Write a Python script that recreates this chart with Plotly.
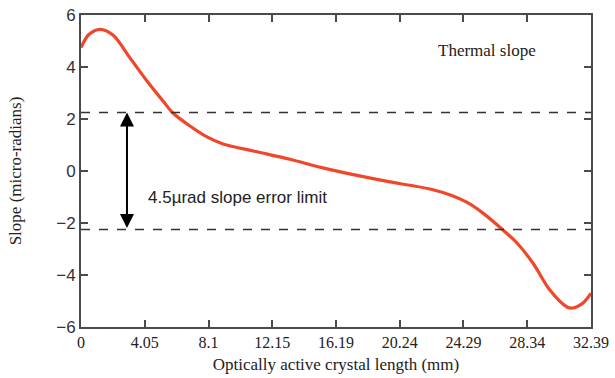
import plotly.graph_objects as go

# Data
length_mm = [0.0, 0.5, 1.2, 2.03, 3.11, 4.19, 5.21, 5.84, 6.92, 8.0, 9.02, 11.18,
             13.27, 15.37, 17.53, 19.62, 20.89, 22.35, 23.5, 24.5, 25.53, 26.8, 27.69,
             28.7, 29.78, 30.86, 31.25, 31.88, 32.39]
slope_urad = [4.75, 5.25, 5.45, 5.23, 4.35, 3.46, 2.69, 2.23, 1.73, 1.31, 1.04, 0.74,
              0.45, 0.12, -0.17, -0.42, -0.55, -0.72, -0.93, -1.2, -1.62, -2.27, -2.77,
              -3.54, -4.58, -5.23, -5.27, -5.08, -4.7]

x_ticks = [0, 4.05, 8.1, 12.15, 16.19, 20.24, 24.29, 28.34, 32.39]
x_tick_text = ["0", "4.05", "8.1", "12.15", "16.19", "20.24", "24.29", "28.34", "32.39"]
y_ticks = [-6, -4, -2, 0, 2, 4, 6]

limit_upper = 2.25
limit_lower = -2.25
arrow_x = 2.92
label_pos = (4.1, -1.0)
title_pos = (25.8, 4.65)

fig = go.Figure()
fig.add_trace(go.Scatter(
    x=length_mm, y=slope_urad, mode="lines",
    line=dict(color="#f0462a", width=3.2, shape="spline", smoothing=0.9),
    showlegend=False, hoverinfo="skip",
))

for yv in (limit_upper, limit_lower):
    fig.add_shape(type="line", xref="x", yref="y", x0=x_ticks[0], x1=x_ticks[-1],
                  y0=yv, y1=yv, line=dict(color="#333333", width=1.5, dash="dash"))

fig.add_annotation(x=arrow_x, y=limit_upper, ax=arrow_x, ay=limit_lower,
                   xref="x", yref="y", axref="x", ayref="y", text="",
                   showarrow=True, arrowhead=2, arrowside="end+start",
                   arrowsize=1.4, arrowwidth=2, arrowcolor="#000000", standoff=0, startstandoff=0)

fig.add_annotation(x=label_pos[0], y=label_pos[1], xref="x", yref="y",
                   text="4.5µrad slope error limit", showarrow=False, xanchor="left",
                   font=dict(family="Liberation Sans, Arial", size=17, color="#222222"))

fig.add_annotation(x=title_pos[0], y=title_pos[1], xref="x", yref="y",
                   text="Thermal slope", showarrow=False, xanchor="center",
                   font=dict(family="Liberation Serif, Times New Roman", size=17, color="#222222"))

axis_common = dict(showline=True, linecolor="#4a4a4a", linewidth=2, mirror="ticks",
                   ticks="inside", ticklen=7, tickwidth=1.5, tickcolor="#4a4a4a",
                   showgrid=False, zeroline=False, automargin=False)

fig.update_xaxes(range=[x_ticks[0], x_ticks[-1]], tickvals=x_ticks, ticktext=x_tick_text,
                 tickfont=dict(family="Liberation Serif, Times New Roman", size=16, color="#222222"),
                 title=dict(text="Optically active crystal length (mm)", standoff=8,
                            font=dict(family="Liberation Serif, Times New Roman", size=17, color="#222222")),
                 **axis_common)
fig.update_yaxes(range=[-6, 6], tickvals=y_ticks,
                 tickfont=dict(family="Liberation Sans, Arial", size=17, color="#333333"),
                 title=dict(text="Slope (micro-radians)", standoff=30,
                            font=dict(family="Liberation Serif, Times New Roman", size=17, color="#222222")),
                 **axis_common)

fig.update_layout(width=615, height=378, margin=dict(l=81, r=24, t=15, b=51),
                  plot_bgcolor="white", paper_bgcolor="white")

fig.write_html("out.html", config={"displayModeBar": False},
               post_script="document.body.style.margin='0';document.body.style.overflow='hidden';")
